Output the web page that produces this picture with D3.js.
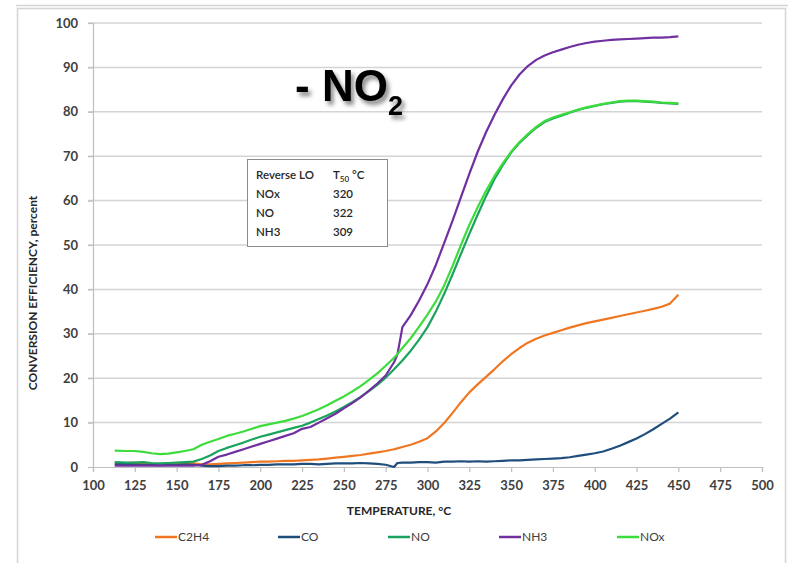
<!DOCTYPE html>
<html>
<head>
<meta charset="utf-8">
<script src="https://cdn.jsdelivr.net/npm/d3@7"></script>
<style>
  body { margin: 0; background: #fff; }
  svg { display: block; font-family: Lato, "Open Sans", sans-serif; }
</style>
</head>
<body>
<svg id="chart" width="788" height="563"></svg>
<script>
// temperatures, degC (shared by every series)
const temps = [113,120,125,130,135,140,145,150,155,160,165,170,175,180,185,190,195,200,205,210,215,220,225,230,235,240,245,250,255,260,265,270,275,280,282,285,290,295,300,305,310,315,320,325,330,335,340,345,350,355,360,365,370,375,380,385,390,395,400,405,410,415,420,425,430,435,440,445,450];

// conversion efficiency, percent
const c2h4 = [0.8,0.9,1.0,0.8,0.5,0.6,0.8,0.7,0.9,0.8,0.6,0.6,0.7,0.8,0.9,1.0,1.1,1.2,1.2,1.3,1.4,1.4,1.5,1.6,1.7,1.9,2.1,2.3,2.5,2.7,3.0,3.3,3.6,4.0,4.2,4.5,5.0,5.7,6.5,8.0,9.9,12.2,14.6,16.8,18.6,20.3,22.0,23.8,25.4,26.8,28.0,28.9,29.6,30.2,30.8,31.4,31.9,32.4,32.8,33.2,33.6,34.0,34.4,34.8,35.2,35.6,36.1,36.8,38.8];
const co   = [0.6,0.7,0.6,0.5,0.5,0.4,0.5,0.5,0.6,0.5,0.3,0.2,0.2,0.3,0.3,0.4,0.4,0.5,0.5,0.6,0.6,0.6,0.7,0.7,0.6,0.7,0.8,0.8,0.8,0.9,0.8,0.7,0.5,0.0,0.9,1.0,1.0,1.1,1.1,1.0,1.2,1.2,1.3,1.2,1.3,1.2,1.3,1.4,1.5,1.5,1.6,1.7,1.8,1.9,2.0,2.2,2.5,2.8,3.1,3.5,4.1,4.8,5.6,6.4,7.4,8.5,9.7,10.9,12.3];
const no   = [1.1,1.0,1.0,1.1,0.9,0.8,0.9,1.0,1.1,1.2,1.8,2.6,3.6,4.3,4.9,5.5,6.2,6.8,7.3,7.8,8.3,8.8,9.3,10.0,10.8,11.6,12.5,13.5,14.6,15.8,17.1,18.5,20.1,22.0,22.8,24.0,26.2,28.7,31.5,35.0,39.0,43.4,48.0,52.5,56.8,61.0,64.8,68.0,70.8,73.0,74.8,76.4,77.7,78.5,79.1,79.8,80.4,80.9,81.3,81.7,82.0,82.3,82.4,82.4,82.3,82.2,82.0,81.9,81.8];
const nh3  = [0.3,0.3,0.3,0.3,0.3,0.3,0.3,0.3,0.3,0.3,0.5,1.3,2.3,2.8,3.4,4.0,4.6,5.2,5.8,6.4,7.0,7.6,8.6,9.0,10.0,11.0,12.0,13.2,14.4,15.7,17.2,18.8,20.6,23.6,25.3,31.5,34.2,37.5,41.2,45.5,50.5,55.5,60.8,66.0,71.0,75.4,79.3,82.8,85.9,88.4,90.3,91.7,92.7,93.4,94.0,94.6,95.1,95.5,95.8,96.0,96.2,96.3,96.4,96.5,96.6,96.7,96.7,96.8,97.0];
const nox  = [3.7,3.6,3.6,3.4,3.1,2.9,3.0,3.3,3.6,4.0,5.0,5.7,6.3,7.0,7.5,8.0,8.6,9.2,9.6,10.0,10.4,10.9,11.5,12.2,13.0,13.9,14.9,15.9,17.0,18.2,19.6,21.1,22.8,24.6,25.4,26.8,29.0,31.6,34.3,37.3,40.9,45.3,50.0,54.5,58.5,62.2,65.5,68.4,71.0,73.2,75.0,76.6,77.9,78.7,79.3,79.9,80.5,81.0,81.4,81.8,82.1,82.4,82.5,82.5,82.4,82.3,82.1,82.0,81.9];

const seriesNames  = ['C2H4', 'CO', 'NO', 'NH3', 'NOx'];
const seriesValues = [c2h4, co, no, nh3, nox];
const seriesColors = ['#f07722', '#1f4e7d', '#1aa35c', '#7030a0', '#3ddc3d'];

const xTicks = [100,125,150,175,200,225,250,275,300,325,350,375,400,425,450,475,500];
const yTicks = [0,10,20,30,40,50,60,70,80,90,100];

const tableRows = [['Reverse LO', 'T50'], ['NOx', '320'], ['NO', '322'], ['NH3', '309']];

const svg = d3.select('#chart');
const x = d3.scaleLinear().domain([100, 500]).range([93, 762]);
const y = d3.scaleLinear().domain([0, 100]).range([467, 23]);

// slide frame
svg.append('line').attr('x1', 16).attr('x2', 788).attr('y1', 5.5).attr('y2', 5.5)
  .attr('stroke', '#d4d4d4').attr('stroke-width', 1.5);
svg.append('rect').attr('x', 17.5).attr('y', 8.5).attr('width', 768).attr('height', 600)
  .attr('fill', 'none').attr('stroke', '#d4d4d4').attr('stroke-width', 1.5);

// gridlines
svg.append('g').selectAll('line').data(yTicks.filter(d => d > 0)).join('line')
  .attr('x1', 88).attr('x2', 762)
  .attr('y1', d => y(d)).attr('y2', d => y(d))
  .attr('stroke', '#d4d4d4').attr('stroke-width', 1.5);

// axes
const xAxis = svg.append('g').attr('transform', 'translate(0,467)')
  .call(d3.axisBottom(x).tickValues(xTicks).tickSize(5).tickPadding(9));
const yAxis = svg.append('g').attr('transform', 'translate(93,0)')
  .call(d3.axisLeft(y).tickValues(yTicks).tickSize(5).tickPadding(10));
[xAxis, yAxis].forEach(a => {
  a.select('.domain').attr('stroke', '#bfbfbf').attr('stroke-width', 1.2);
  a.selectAll('.tick line').attr('stroke', '#bfbfbf').attr('stroke-width', 1.2);
  a.selectAll('.tick text').attr('fill', '#404040')
    .style('font-size', '13px').style('font-weight', 'bold').style('font-family', 'Lato, sans-serif');
});

// axis titles
svg.append('text').attr('x', 399).attr('y', 515).attr('text-anchor', 'middle')
  .attr('fill', '#262626').style('font-size', '12px').style('font-weight', 'bold')
  .text('TEMPERATURE, °C');
svg.append('text').attr('transform', 'translate(37,293) rotate(-90)').attr('text-anchor', 'middle')
  .attr('fill', '#262626').style('font-size', '12px').style('font-weight', 'bold')
  .text('CONVERSION EFFICIENCY, percent');

// series lines
const line = d3.line().x((d, i) => x(temps[i])).y(d => y(d));
svg.append('g').selectAll('path').data(seriesValues).join('path')
  .attr('d', d => line(d))
  .attr('fill', 'none')
  .attr('stroke', (d, i) => seriesColors[i])
  .attr('stroke-width', 2.2)
  .attr('stroke-linejoin', 'round');

// legend
const legendX = [155, 278, 388, 499, 617];
const legend = svg.append('g').selectAll('g').data(seriesNames).join('g')
  .attr('transform', (d, i) => `translate(${legendX[i]},537)`);
legend.append('line').attr('x1', 0).attr('x2', 22)
  .attr('stroke', (d, i) => seriesColors[i]).attr('stroke-width', 2.5);
legend.append('text').attr('x', 23).attr('dy', '0.35em')
  .attr('fill', '#404040').style('font-size', '12px').text(d => d);

// T50 table
const tbl = svg.append('g');
tbl.append('rect').attr('x', 247.5).attr('y', 159.5).attr('width', 140).attr('height', 87)
  .attr('fill', '#fff').attr('stroke', '#8c8c8c').attr('stroke-width', 1);
const rowY = [175, 194, 213, 232];
tableRows.forEach((r, i) => {
  tbl.append('text').attr('x', 256).attr('y', rowY[i]).attr('dy', '0.35em')
    .attr('fill', '#262626').style('font-size', '11.5px').style('font-weight', 600).text(r[0]);
  const t = tbl.append('text').attr('x', 333).attr('y', rowY[i]).attr('dy', '0.35em')
    .attr('fill', '#262626').style('font-size', '11.5px').style('font-weight', 600);
  if (i === 0) {
    t.append('tspan').text('T');
    t.append('tspan').attr('dy', 3).style('font-size', '8px').text('50');
    t.append('tspan').attr('dy', -3).text(' °C');
  } else {
    t.text(r[1]);
  }
});

// big title with shadow
const defs = svg.append('defs');
const f = defs.append('filter').attr('id', 'shadow').attr('x', '-20%').attr('y', '-20%')
  .attr('width', '150%').attr('height', '150%');
f.append('feDropShadow').attr('dx', 3).attr('dy', 4).attr('stdDeviation', 2.2)
  .attr('flood-color', '#000').attr('flood-opacity', 0.45);
const title = svg.append('text').attr('x', 295).attr('y', 101)
  .attr('filter', 'url(#shadow)')
  .style('font-family', '"Liberation Sans", Arial, sans-serif')
  .style('font-weight', 'bold').style('font-size', '44px').attr('fill', '#000');
title.append('tspan').text('- NO');
title.append('tspan').attr('dy', 14).style('font-size', '27px').text('2');
</script>
</body>
</html>
